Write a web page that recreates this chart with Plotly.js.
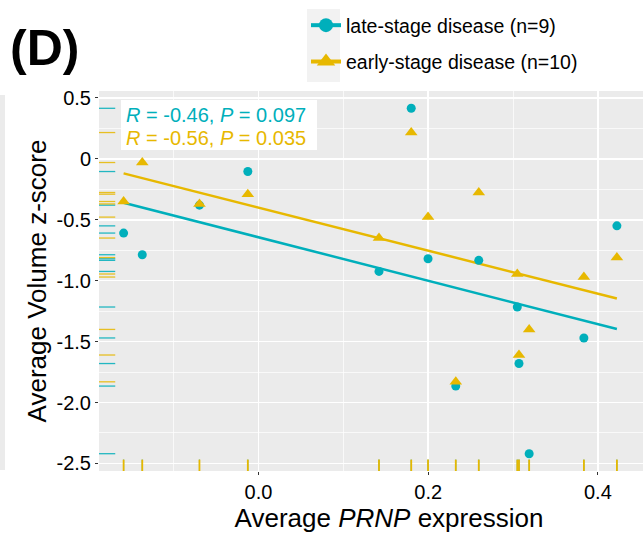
<!DOCTYPE html>
<html>
<head>
<meta charset="utf-8">
<script src="https://cdn.plot.ly/plotly-3.0.1.min.js"></script>
<style>html,body{margin:0;padding:0;background:#fff;overflow:hidden;}#chart{width:681px;height:536px;}</style>
</head>
<body>
<div id="chart"></div>
<script>
// ---- data ----
const lateX = [-0.159, -0.137, -0.0696, -0.0126, 0.142, 0.180, 0.1998, 0.2325, 0.2596, 0.305, 0.307, 0.319, 0.3835, 0.4224];
const lateY = [-0.609, -0.787, -0.38, -0.104, -0.924, 0.415, -0.82, -1.865, -0.833, -1.216, -1.68, -2.42, -1.47, -0.55];
const earlyX = [-0.159, -0.137, -0.0696, -0.0126, 0.142, 0.180, 0.1998, 0.2325, 0.2596, 0.305, 0.307, 0.319, 0.3835, 0.4224];
const earlyY = [-0.35, -0.03, -0.37, -0.29, -0.65, 0.216, -0.478, -1.83, -0.276, -0.945, -1.61, -1.40, -0.97, -0.81];
const seriesNames = ["late-stage disease (n=9)", "early-stage disease (n=10)"];
const corrLabels = ["<i>R</i> = -0.46, <i>P</i> = 0.097", "<i>R</i> = -0.56, <i>P</i> = 0.035"];
const xTickVals = [0.0, 0.2, 0.4];
const xTickText = ["0.0", "0.2", "0.4"];
const xMinorVals = [-0.1, 0.1, 0.3];
const yTickVals = [0.5, 0, -0.5, -1.0, -1.5, -2.0, -2.5];
const yTickText = ["0.5", "0", "-0.5", "-1.0", "-1.5", "-2.0", "-2.5"];
const yMinorVals = [0.25, -0.25, -0.75, -1.25, -1.75, -2.25];

const TEAL = "#00AFBB", GOLD = "#E7B800";
const FONT = "Liberation Sans, Arial, Helvetica, sans-serif";

function fit(xs, ys) {
  const n = xs.length;
  const mx = xs.reduce((a, b) => a + b, 0) / n;
  const my = ys.reduce((a, b) => a + b, 0) / n;
  let sxy = 0, sxx = 0;
  for (let i = 0; i < n; i++) { sxy += (xs[i] - mx) * (ys[i] - my); sxx += (xs[i] - mx) ** 2; }
  const b = sxy / sxx, a = my - b * mx;
  const x0 = Math.min(...xs), x1 = Math.max(...xs);
  const xx = [], yy = [];
  const N = 20;
  for (let i = 0; i <= N; i++) { const x = x0 + (x1 - x0) * i / N; xx.push(x); yy.push(a + b * x); }
  return {x: xx, y: yy};
}

// layout geometry (the original figure is cropped on the right)
const W = 681, H = 536;
const M = {l: 99, r: 2, t: 91, b: 65};
const PW = W - M.l - M.r, PH = H - M.t - M.b;
const px2x = p => (p - M.l) / PW;
const px2y = p => 1 - (p - M.t) / PH;

const fLate = fit(lateX, lateY), fEarly = fit(earlyX, earlyY);

const traces = [
  {x: fLate.x, y: fLate.y, mode: "lines", line: {color: TEAL, width: 2.5}, showlegend: false, hoverinfo: "skip"},
  {x: fEarly.x, y: fEarly.y, mode: "lines", line: {color: GOLD, width: 2.5}, showlegend: false, hoverinfo: "skip"},
  {x: lateX, y: lateY, mode: "markers", marker: {symbol: "circle", size: 9, color: TEAL}, showlegend: false},
  {x: earlyX, y: earlyY, mode: "markers", marker: {symbol: "triangle-up", size: 11, color: GOLD}, showlegend: false},
  {x: [null], y: [null], mode: "lines+markers", name: seriesNames[0], legendgroup: "a",
   marker: {symbol: "circle", size: 14, color: TEAL}, line: {color: TEAL, width: 4}},
  {x: [null], y: [null], mode: "lines+markers", name: seriesNames[1], legendgroup: "b",
   marker: {symbol: "triangle-up", size: 16, color: GOLD}, line: {color: GOLD, width: 4}}
];

const shapes = [];
// rugs: teal first, gold on top
[[lateX, lateY, TEAL, 1.0], [earlyX, earlyY, GOLD, 1.8]].forEach(([xs, ys, c, bw]) => {
  ys.forEach(v => shapes.push({type: "line", xref: "x domain", yref: "y", x0: 0, x1: 0.028, y0: v, y1: v,
    line: {color: c, width: 1.3}, opacity: 0.85, layer: "above"}));
  xs.forEach(v => shapes.push({type: "line", xref: "x", yref: "y domain", x0: v, x1: v, y0: 0, y1: 0.03,
    line: {color: c, width: bw}, opacity: 1, layer: "above"}));
});
// white label box
shapes.push({type: "rect", xref: "paper", yref: "paper", x0: px2x(121), x1: px2x(317), y0: px2y(150), y1: px2y(100),
  fillcolor: "#ffffff", line: {width: 0}, layer: "above"});
// legend key background
shapes.push({type: "rect", xref: "paper", yref: "paper", x0: px2x(307), x1: px2x(340), y0: px2y(82), y1: px2y(9),
  fillcolor: "#F2F2F2", line: {width: 0}, layer: "below"});
// fragment of neighbouring panel on the far left
shapes.push({type: "rect", xref: "paper", yref: "paper", x0: px2x(0), x1: px2x(5), y0: px2y(470), y1: px2y(95),
  fillcolor: "#EBEBEB", line: {width: 0}, layer: "below"});

const annotations = [
  {xref: "x", yref: "paper", x: Math.min(...lateX), y: px2y(115), xanchor: "left", yanchor: "middle",
   text: corrLabels[0], showarrow: false, font: {family: FONT, size: 20, color: TEAL}},
  {xref: "x", yref: "paper", x: Math.min(...earlyX), y: px2y(138), xanchor: "left", yanchor: "middle",
   text: corrLabels[1], showarrow: false, font: {family: FONT, size: 20, color: GOLD}},
  {xref: "paper", yref: "paper", x: px2x(8), y: px2y(48), xanchor: "left", yanchor: "middle",
   text: "<b>(D)</b>", showarrow: false, font: {family: FONT, size: 50, color: "#000"}}
];

const layout = {
  width: W, height: H,
  margin: M,
  paper_bgcolor: "#ffffff",
  plot_bgcolor: "#EBEBEB",
  font: {family: FONT, color: "#000"},
  showlegend: true,
  legend: {x: px2x(306), y: px2y(6), xanchor: "left", yanchor: "top", bgcolor: "rgba(0,0,0,0)",
    font: {family: FONT, size: 19.5, color: "#000"}, tracegroupgap: 8, itemwidth: 30},
  xaxis: {
    range: [-0.188, 0.4956], tickvals: xTickVals, ticktext: xTickText,
    showgrid: true, gridcolor: "#ffffff", gridwidth: 1.5, zeroline: false, showline: false,
    ticks: "outside", ticklen: 3, tickwidth: 1, tickcolor: "#333",
    tickfont: {family: FONT, size: 20, color: "#000"},
    minor: {tickmode: "array", tickvals: xMinorVals, showgrid: true, gridcolor: "#ffffff", gridwidth: 0.7, ticks: ""},
    title: {text: "Average <i>PRNP</i> expression", font: {family: FONT, size: 26, color: "#000"}, standoff: 6}
  },
  yaxis: {
    range: [-2.562, 0.557], tickvals: yTickVals, ticktext: yTickText,
    showgrid: true, gridcolor: "#ffffff", gridwidth: 1.5, zeroline: false, showline: false,
    ticks: "outside", ticklen: 3, tickwidth: 1, tickcolor: "#333",
    tickfont: {family: FONT, size: 20, color: "#000"},
    minor: {tickmode: "array", tickvals: yMinorVals, showgrid: true, gridcolor: "#ffffff", gridwidth: 0.7, ticks: ""},
    title: {text: "Average Volume z-score", font: {family: FONT, size: 26, color: "#000"}, standoff: 2}
  },
  shapes: shapes,
  annotations: annotations
};

Plotly.newPlot("chart", traces, layout, {displayModeBar: false, staticPlot: true});
</script>
</body>
</html>
